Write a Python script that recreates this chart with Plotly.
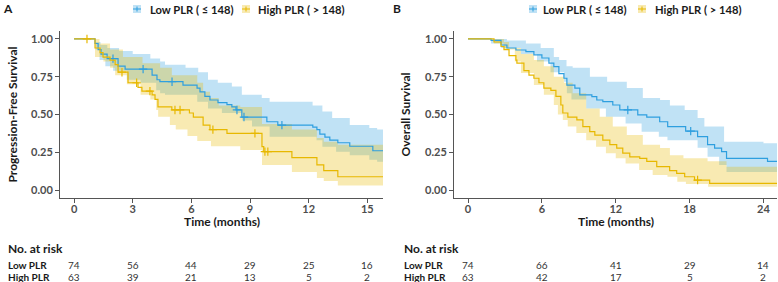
import plotly.graph_objects as go

W, H = 778, 282
BLUE = "#2E9FDF"
YELLOW = "#E7B800"
BLUE_F = "rgba(46,159,223,0.3)"
YELLOW_F = "rgba(231,184,0,0.3)"
FONT = "Lato"

# ---------------- Panel A : Progression-free survival ----------------
A_END = 15.8
A_low_t = [0, 1.07, 1.23, 1.38, 1.69, 2.25, 2.61, 3.99, 4.24, 4.39, 5.57, 6.29, 6.44, 6.69, 6.95,
           7.36, 7.82, 8.07, 8.28, 8.58, 9.86, 10.42, 12.21, 12.42, 12.57, 12.83, 13.08, 13.49, 14.10, 15.28]
A_low_s = [1.0, 0.97, 0.93, 0.90, 0.87, 0.82, 0.80, 0.76, 0.73, 0.717, 0.695, 0.675, 0.65, 0.62, 0.596,
           0.578, 0.565, 0.55, 0.53, 0.483, 0.452, 0.43, 0.417, 0.40, 0.37, 0.35, 0.33, 0.313, 0.29, 0.26]
A_low_up_t = [0, 1.1, 1.35, 1.7, 2.3, 3.0, 3.9, 4.4, 4.65, 5.7, 6.35, 6.85, 7.35, 8.07, 8.58, 9.6, 10.0,
              12.2, 12.7, 13.2, 14.1, 15.1, 15.5]
A_low_up_s = [1.0, 0.98, 0.96, 0.94, 0.92, 0.90, 0.87, 0.85, 0.83, 0.81, 0.78, 0.73, 0.71, 0.685, 0.63, 0.61,
              0.585, 0.56, 0.52, 0.477, 0.43, 0.41, 0.40]
A_low_lo_t = [0, 1.1, 1.3, 1.6, 2.0, 2.7, 3.4, 4.2, 4.4, 4.65, 6.3, 6.85, 7.56, 8.6, 9.1, 10.0, 12.4,
              12.7, 13.4, 14.1, 15.1, 15.5]
A_low_lo_s = [1.0, 0.93, 0.86, 0.82, 0.79, 0.73, 0.71, 0.66, 0.64, 0.63, 0.585, 0.54, 0.51, 0.46, 0.42, 0.353,
              0.33, 0.287, 0.254, 0.23, 0.20, 0.187]
A_low_cens = [1.99, 3.53, 5.01, 8.33, 8.69, 10.63]

A_high_t = [0, 1.07, 1.33, 1.48, 1.84, 2.10, 2.25, 2.76, 3.27, 3.47, 3.99, 4.14, 4.29, 5.0, 5.9, 6.1,
            6.6, 6.95, 7.82, 9.61, 9.7, 11.14, 12.42, 12.77, 13.49]
A_high_s = [1.0, 0.94, 0.91, 0.88, 0.86, 0.83, 0.78, 0.71, 0.68, 0.655, 0.63, 0.60, 0.55, 0.53, 0.51, 0.483,
            0.43, 0.40, 0.375, 0.287, 0.254, 0.214, 0.166, 0.128, 0.088]
A_high_up_t = [0, 1.3, 1.84, 2.5, 3.5, 4.4, 5.0, 6.3, 6.6, 6.95, 7.4, 8.5, 9.61, 11.14, 12.42, 12.77, 13.49]
A_high_up_s = [1.0, 0.97, 0.93, 0.88, 0.84, 0.81, 0.76, 0.71, 0.65, 0.61, 0.56, 0.55, 0.437, 0.40, 0.344,
               0.32, 0.30]
A_high_lo_t = [0, 1.07, 1.5, 1.84, 2.1, 2.7, 3.4, 3.9, 4.2, 4.3, 4.9, 5.2, 5.8, 6.3, 7.0, 8.5, 9.61,
               11.14, 12.42, 12.77, 13.49]
A_high_lo_s = [1.0, 0.88, 0.85, 0.81, 0.76, 0.70, 0.63, 0.60, 0.53, 0.485, 0.43, 0.40, 0.357, 0.325, 0.29,
               0.265, 0.166, 0.12, 0.08, 0.06, 0.03]
A_high_cens = [0.66, 2.45, 3.2, 3.88, 5.16, 5.42, 7.1, 9.25, 9.76, 9.91]

A_ticks = [0, 3, 6, 9, 12, 15]
A_risk_low = [74, 56, 44, 29, 25, 16]
A_risk_high = [63, 39, 21, 13, 5, 2]

# ---------------- Panel B : Overall survival ----------------
B_END = 25.1
B_low_t = [0, 1.87, 2.68, 3.16, 3.89, 4.70, 5.35, 6.00, 6.57, 6.97, 7.38, 7.79, 8.03, 8.68, 9.08, 10.06,
           10.46, 10.95, 11.76, 12.33, 13.79, 14.52, 15.57, 16.22, 17.68, 18.65, 19.46, 20.03, 20.60, 21.0, 24.33]
B_low_s = [1.0, 0.99, 0.96, 0.94, 0.927, 0.916, 0.894, 0.874, 0.84, 0.817, 0.77, 0.74, 0.695, 0.675, 0.63,
           0.618, 0.596, 0.585, 0.563, 0.53, 0.497, 0.483, 0.452, 0.42, 0.39, 0.353, 0.30, 0.278, 0.254, 0.21, 0.19]
B_low_up_t = [0, 3.16, 4.7, 5.9, 6.97, 7.4, 8.0, 8.5, 9.9, 11.3, 12.9, 14.2, 15.6, 16.4, 17.6, 18.65,
              19.2, 20.8, 24.0]
B_low_up_s = [1.0, 0.99, 0.97, 0.94, 0.88, 0.86, 0.82, 0.81, 0.75, 0.717, 0.675, 0.61, 0.596, 0.56, 0.53,
              0.477, 0.42, 0.32, 0.31]
B_low_lo_t = [0, 1.87, 2.7, 4.3, 5.6, 6.7, 7.8, 8.03, 8.4, 9.6, 11.2, 12.8, 14.1, 15.5, 16.2, 18.65,
              19.46, 20.4, 21.0]
B_low_lo_s = [1.0, 0.97, 0.94, 0.90, 0.85, 0.78, 0.717, 0.64, 0.60, 0.54, 0.485, 0.44, 0.386, 0.353, 0.33,
              0.28, 0.22, 0.166, 0.12]
B_low_cens = [12.98, 18.09]

B_high_t = [0, 2.11, 2.68, 2.92, 3.33, 3.89, 3.97, 4.54, 4.95, 5.35, 5.76, 6.16, 6.73, 7.14, 7.54, 7.70,
            8.11, 8.84, 9.33, 9.89, 10.30, 10.95, 11.52, 12.08, 12.57, 13.14, 13.95, 14.52, 15.33, 16.38,
            16.95, 17.60, 18.4, 19.63]
B_high_s = [1.0, 0.98, 0.95, 0.93, 0.89, 0.86, 0.84, 0.79, 0.76, 0.74, 0.71, 0.675, 0.66, 0.62, 0.563, 0.51,
            0.483, 0.464, 0.42, 0.386, 0.364, 0.33, 0.30, 0.278, 0.245, 0.22, 0.21, 0.19, 0.155, 0.128,
            0.11, 0.088, 0.066, 0.044]
B_high_up_t = [0, 2.92, 3.33, 4.3, 5.35, 6.16, 6.97, 7.79, 8.5, 9.6, 10.7, 11.76, 12.9, 14.2, 15.6, 16.4,
               17.5, 19.46, 21.0]
B_high_up_s = [1.0, 0.98, 0.94, 0.90, 0.86, 0.82, 0.75, 0.71, 0.64, 0.54, 0.485, 0.42, 0.364, 0.30, 0.278,
               0.23, 0.21, 0.19, 0.155]
B_high_lo_t = [0, 2.1, 2.9, 3.8, 4.3, 5.35, 6.16, 6.97, 7.3, 7.7, 8.1, 8.8, 9.6, 10.4, 11.2, 12.0, 12.8,
               13.9, 15.0, 16.2, 17.0, 17.7, 19.5]
B_high_lo_s = [1.0, 0.97, 0.93, 0.85, 0.775, 0.695, 0.63, 0.563, 0.50, 0.464, 0.42, 0.377, 0.33, 0.287,
               0.243, 0.21, 0.176, 0.132, 0.10, 0.088, 0.055, 0.04, 0.022]
B_high_cens = [18.65]

B_ticks = [0, 6, 12, 18, 24]
B_risk_low = [74, 66, 41, 29, 14]
B_risk_high = [63, 42, 17, 5, 2]

GROUPS = ["Low PLR", "High PLR"]
LEGEND_LABELS = ["Low PLR ( \u2264 148)", "High PLR ( > 148)"]


def px_x(p):
    return p / W


def px_y(p):
    return 1 - p / H


def step_xy(t, s, end):
    return list(t) + [end], list(s) + [s[-1]]


def surv_at(t, s, x):
    v = s[0]
    for ti, si in zip(t, s):
        if ti <= x:
            v = si
    return v


fig = go.Figure()

panels = [
    dict(xa="x", ya="y", end=A_END,
         curves=[(A_low_t, A_low_s, A_low_up_t, A_low_up_s, A_low_lo_t, A_low_lo_s, A_low_cens, BLUE, BLUE_F),
                 (A_high_t, A_high_s, A_high_up_t, A_high_up_s, A_high_lo_t, A_high_lo_s, A_high_cens, YELLOW, YELLOW_F)]),
    dict(xa="x2", ya="y2", end=B_END,
         curves=[(B_low_t, B_low_s, B_low_up_t, B_low_up_s, B_low_lo_t, B_low_lo_s, B_low_cens, BLUE, BLUE_F),
                 (B_high_t, B_high_s, B_high_up_t, B_high_up_s, B_high_lo_t, B_high_lo_s, B_high_cens, YELLOW, YELLOW_F)]),
]

for p in panels:
    # ribbons
    for (t, s, ut, us, lt, ls, cens, col, fcol) in p["curves"]:
        lx, ly = step_xy(lt, ls, p["end"])
        ux, uy = step_xy(ut, us, p["end"])
        fig.add_trace(go.Scatter(x=lx, y=ly, mode="lines", line=dict(width=0, shape="hv"),
                                 xaxis=p["xa"], yaxis=p["ya"], showlegend=False, hoverinfo="skip"))
        fig.add_trace(go.Scatter(x=ux, y=uy, mode="lines", line=dict(width=0, shape="hv"),
                                 fill="tonexty", fillcolor=fcol,
                                 xaxis=p["xa"], yaxis=p["ya"], showlegend=False, hoverinfo="skip"))
    # lines + censors
    for (t, s, ut, us, lt, ls, cens, col, fcol) in p["curves"]:
        x, y = step_xy(t, s, p["end"])
        fig.add_trace(go.Scatter(x=x, y=y, mode="lines", line=dict(color=col, width=1.2, shape="hv"),
                                 xaxis=p["xa"], yaxis=p["ya"], showlegend=False))
        fig.add_trace(go.Scatter(x=cens, y=[surv_at(t, s, c) for c in cens], mode="markers",
                                 marker=dict(symbol="cross-thin", size=6, line=dict(color=col, width=1.2)),
                                 xaxis=p["xa"], yaxis=p["ya"], showlegend=False))

AXCOL = "#555555"
TICKFONT = dict(family=FONT, size=11, color="#4D4D4D", weight="bold")

common_x = dict(showline=True, linecolor=AXCOL, linewidth=1, ticks="outside", ticklen=4, tickcolor=AXCOL,
                showgrid=False, zeroline=False, tickfont=TICKFONT, ticklabelstandoff=-3)
common_y = dict(showline=True, linecolor=AXCOL, linewidth=1, ticks="outside", ticklen=4, tickcolor=AXCOL,
                showgrid=False, zeroline=False, tickfont=TICKFONT, range=[-0.05, 1.05],
                tickvals=[0, 0.25, 0.5, 0.75, 1.0], tickformat=".2f")

ytop, ybot = 31.4, 197.6
fig.update_layout(
    width=W, height=H, margin=dict(l=0, r=0, t=0, b=0),
    paper_bgcolor="white", plot_bgcolor="white", showlegend=False,
    xaxis=dict(domain=[px_x(60), px_x(383)], range=[-0.72, A_END], tickvals=A_ticks, anchor="y", **common_x),
    yaxis=dict(domain=[px_y(ybot), px_y(ytop)], anchor="x", **common_y),
    xaxis2=dict(domain=[px_x(454), px_x(777)], range=[-1.14, B_END], tickvals=B_ticks, anchor="y2", **common_x),
    yaxis2=dict(domain=[px_y(ybot), px_y(ytop)], anchor="x2", **common_y),
)

ann = []
shapes = []


def text(x, y, s, size=12, bold=True, color="#1a1a1a", xanchor="left", xref="paper", angle=0):
    ann.append(dict(x=x if xref != "paper" else px_x(x), y=px_y(y), xref=xref, yref="paper", text=s,
                    showarrow=False, xanchor=xanchor, yanchor="middle", textangle=angle,
                    font=dict(family=FONT, size=size, color=color, weight="bold" if bold else "normal")))


# panel letters
text(1, 9, "A", size=12)
text(391, 9, "B", size=12)

# legends
for (sw_b, tx_b, sw_y, tx_y) in [(137, 148, 246, 256), (533, 541, 642, 653)]:
    for cx, col, fcol in [(sw_b, BLUE, BLUE_F), (sw_y, YELLOW, YELLOW_F)]:
        shapes.append(dict(type="rect", xref="paper", yref="paper", x0=px_x(cx - 4), x1=px_x(cx + 4),
                           y0=px_y(13), y1=px_y(5), fillcolor=fcol, line=dict(width=0)))
        shapes.append(dict(type="line", xref="paper", yref="paper", x0=px_x(cx - 4), x1=px_x(cx + 4),
                           y0=px_y(9), y1=px_y(9), line=dict(color=col, width=1)))
        shapes.append(dict(type="line", xref="paper", yref="paper", x0=px_x(cx), x1=px_x(cx),
                           y0=px_y(11.5), y1=px_y(6.5), line=dict(color=col, width=1)))
    text(tx_b, 9.5, LEGEND_LABELS[0], size=11.2)
    text(tx_y, 9.5, LEGEND_LABELS[1], size=11.2)

# axis titles
text(12, 114.5, "Progression-Free Survival", size=12, xanchor="center", angle=-90)
text(405, 114.5, "Overall Survival", size=12, xanchor="center", angle=-90)
text(221.5, 221, "Time (months)", size=12, xanchor="center")
text(615.5, 221, "Time (months)", size=12, xanchor="center")

# risk tables
for (x0, xref, ticks, rl, rh) in [(6, "x", A_ticks, A_risk_low, A_risk_high),
                                   (402, "x2", B_ticks, B_risk_low, B_risk_high)]:
    text(x0, 248, "No. at risk", size=12)
    text(x0, 264.5, GROUPS[0], size=10)
    text(x0, 277, GROUPS[1], size=10)
    for tv, a, b in zip(ticks, rl, rh):
        text(tv, 264.5, str(a), size=10, bold=False, color="#333333", xanchor="center", xref=xref)
        text(tv, 277, str(b), size=10, bold=False, color="#333333", xanchor="center", xref=xref)

fig.update_layout(annotations=ann, shapes=shapes)
fig.write_html("out.html", config={"displayModeBar": False},
               post_script="document.body.style.margin='0';document.body.style.overflow='hidden';")
